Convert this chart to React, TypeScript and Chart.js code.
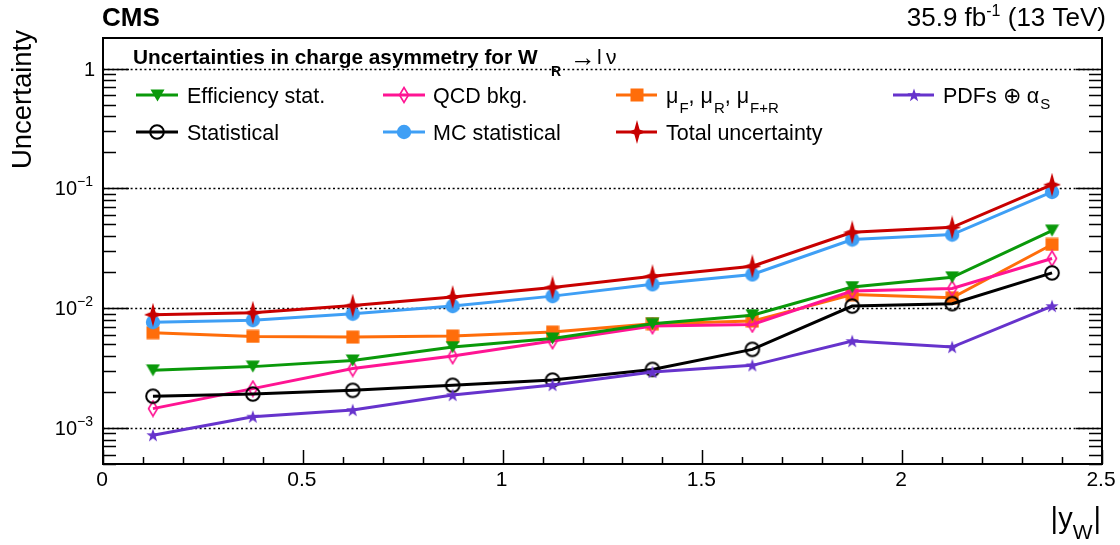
import React, { useEffect, useRef } from "react";
import { Chart, registerables } from "chart.js";

Chart.register(...registerables);

// ---------------- data ----------------
const binCenters = [0.125, 0.375, 0.625, 0.875, 1.125, 1.375, 1.625, 1.875, 2.125, 2.375];
const effStat = [0.00303, 0.00325, 0.00366, 0.00473, 0.00559, 0.0074, 0.00874, 0.0150, 0.0181, 0.0444];
const statistical = [0.00184, 0.00192, 0.00206, 0.00227, 0.00251, 0.00308, 0.00453, 0.0104, 0.0109, 0.0197];
const qcdBkg = [0.00145, 0.00213, 0.00313, 0.00398, 0.00531, 0.00708, 0.00731, 0.0139, 0.0146, 0.0260];
const mcStat = [0.00764, 0.00794, 0.00898, 0.0104, 0.0126, 0.0158, 0.0191, 0.0374, 0.0411, 0.0933];
const muScale = [0.00624, 0.00581, 0.00573, 0.00585, 0.00631, 0.00741, 0.0078, 0.0130, 0.0122, 0.0340];
const totalUnc = [0.00881, 0.00916, 0.0105, 0.0124, 0.0149, 0.0185, 0.0224, 0.0430, 0.0473, 0.1074];
const pdfAlphaS = [0.00087, 0.00124, 0.00141, 0.00188, 0.00228, 0.00293, 0.00333, 0.00531, 0.00473, 0.0104];

const xTickValues = [0, 0.5, 1, 1.5, 2, 2.5];
const xTickLabels = ["0", "0.5", "1", "1.5", "2", "2.5"];
const yDecades = [1, 0.1, 0.01, 0.001];
const yDecadeExponents = ["", "\u22121", "\u22122", "\u22123"];

const X_MIN = 0;
const X_MAX = 2.5;
const Y_MIN = 5e-4;
const Y_MAX = 1.8;

const FONT = '"Liberation Sans", Arial, Helvetica, sans-serif';

const C_GREEN = "#0a990a";
const C_BLACK = "#000000";
const C_PINK = "#ff1493";
const C_BLUE = "#3f9ff5";
const C_ORANGE = "#ff6d0a";
const C_RED = "#c80000";
const C_PURPLE = "#6633cc";

// ---------------- markers ----------------
function mk(w: number, h: number, draw: (c: CanvasRenderingContext2D, w: number, h: number) => void) {
  const c = document.createElement("canvas");
  c.width = w;
  c.height = h;
  const ctx = c.getContext("2d")!;
  draw(ctx, w, h);
  return c;
}

function makeMarkers() {
  const tri = mk(15, 13, (c, w, h) => {
    c.fillStyle = C_GREEN;
    c.beginPath();
    c.moveTo(0.5, 0.5);
    c.lineTo(w - 0.5, 0.5);
    c.lineTo(w / 2, h - 0.5);
    c.closePath();
    c.fill();
  });
  const openCircle = mk(18, 18, (c) => {
    c.strokeStyle = C_BLACK;
    c.lineWidth = 2;
    c.beginPath();
    c.arc(9, 9, 6.8, 0, Math.PI * 2);
    c.stroke();
  });
  const diamond = mk(12, 18, (c, w, h) => {
    c.strokeStyle = C_PINK;
    c.lineWidth = 1.6;
    c.beginPath();
    c.moveTo(w / 2, 1.5);
    c.lineTo(w - 1.5, h / 2);
    c.lineTo(w / 2, h - 1.5);
    c.lineTo(1.5, h / 2);
    c.closePath();
    c.stroke();
  });
  const disc = mk(16, 16, (c) => {
    c.fillStyle = C_BLUE;
    c.beginPath();
    c.arc(8, 8, 7.2, 0, Math.PI * 2);
    c.fill();
  });
  const square = mk(14, 14, (c) => {
    c.fillStyle = C_ORANGE;
    c.fillRect(0.5, 0.5, 13, 13);
  });
  const star4 = mk(18, 24, (c, w, h) => {
    const cx = w / 2, cy = h / 2, ri = 2.6;
    c.fillStyle = C_RED;
    c.beginPath();
    c.moveTo(cx, 0);
    c.lineTo(cx + ri, cy - ri);
    c.lineTo(w, cy);
    c.lineTo(cx + ri, cy + ri);
    c.lineTo(cx, h);
    c.lineTo(cx - ri, cy + ri);
    c.lineTo(0, cy);
    c.lineTo(cx - ri, cy - ri);
    c.closePath();
    c.fill();
  });
  const star5 = mk(14, 14, (c) => {
    c.fillStyle = C_PURPLE;
    c.beginPath();
    for (let i = 0; i < 10; i++) {
      const r = i % 2 === 0 ? 7 : 2.8;
      const a = -Math.PI / 2 + (i * Math.PI) / 5;
      const px = 7 + r * Math.cos(a);
      const py = 7.5 + r * Math.sin(a);
      if (i === 0) c.moveTo(px, py);
      else c.lineTo(px, py);
    }
    c.closePath();
    c.fill();
  });
  return { tri, openCircle, diamond, disc, square, star4, star5 };
}

type Part = { t: string; size: number; bold?: boolean; dy?: number; dx?: number };

function drawParts(ctx: CanvasRenderingContext2D, x: number, y: number, parts: Part[], measureOnly = false) {
  let cx = x;
  for (const p of parts) {
    ctx.font = `${p.bold ? "bold " : ""}${p.size}px ${FONT}`;
    cx += p.dx || 0;
    if (!measureOnly) ctx.fillText(p.t, cx, y + (p.dy || 0));
    cx += ctx.measureText(p.t).width;
  }
  return cx - x;
}

export default function App() {
  const ref = useRef<HTMLCanvasElement | null>(null);

  useEffect(() => {
    document.body.style.margin = "0";
    const canvas = ref.current!;
    const m = makeMarkers();

    const pts = (vals: number[]) => binCenters.map((x, i) => ({ x, y: vals[i] }));

    const series = [
      { label: "Efficiency stat.", data: effStat, color: C_GREEN, marker: m.tri, order: 4 },
      { label: "Statistical", data: statistical, color: C_BLACK, marker: m.openCircle, order: 3 },
      { label: "QCD bkg.", data: qcdBkg, color: C_PINK, marker: m.diamond, order: 5 },
      { label: "MC statistical", data: mcStat, color: C_BLUE, marker: m.disc, order: 1 },
      { label: "muF muR muF+R", data: muScale, color: C_ORANGE, marker: m.square, order: 6 },
      { label: "Total uncertainty", data: totalUnc, color: C_RED, marker: m.star4, order: 0 },
      { label: "PDFs alphaS", data: pdfAlphaS, color: C_PURPLE, marker: m.star5, order: 2 },
    ];

    const overlay = {
      id: "rootStyle",
      beforeDatasetsDraw(chart: any) {
        const { ctx, chartArea: a, scales } = chart;
        const y = scales.y;
        ctx.save();
        ctx.strokeStyle = "#000";
        ctx.lineWidth = 1.6;
        ctx.setLineDash([2, 2.6]);
        for (const d of yDecades) {
          const py = Math.round(y.getPixelForValue(d)) + 0.5;
          ctx.beginPath();
          ctx.moveTo(a.left, py);
          ctx.lineTo(a.right, py);
          ctx.stroke();
        }
        ctx.restore();
      },
      afterDraw(chart: any) {
        const { ctx, chartArea: a, scales } = chart;
        const xs = scales.x;
        const ys = scales.y;
        ctx.save();
        ctx.fillStyle = "#000";
        ctx.strokeStyle = "#000";

        // y ticks (both sides, inward)
        ctx.lineWidth = 1.5;
        for (let e = -4; e <= 0; e++) {
          for (let k = 1; k <= 9; k++) {
            const v = k * Math.pow(10, e);
            if (v < Y_MIN * 0.999 || v > Y_MAX) continue;
            const py = Math.round(ys.getPixelForValue(v)) + 0.5;
            const len = k === 1 ? 26 : 13;
            ctx.beginPath();
            ctx.moveTo(a.left, py);
            ctx.lineTo(a.left + len, py);
            ctx.moveTo(a.right, py);
            ctx.lineTo(a.right - len, py);
            ctx.stroke();
          }
        }
        // x ticks (bottom, inward)
        for (let i = 0; i <= 25; i++) {
          const v = i * 0.1;
          const px = Math.round(xs.getPixelForValue(v)) + 0.5;
          const len = i % 5 === 0 ? 14 : 7;
          ctx.beginPath();
          ctx.moveTo(px, a.bottom);
          ctx.lineTo(px, a.bottom - len);
          ctx.stroke();
        }
        // frame
        ctx.lineWidth = 2;
        ctx.strokeRect(a.left, a.top, a.right - a.left, a.bottom - a.top);

        // y tick labels
        ctx.textBaseline = "alphabetic";
        yDecades.forEach((d, i) => {
          const py = ys.getPixelForValue(d);
          const exp = yDecadeExponents[i];
          if (exp === "") {
            ctx.font = `20px ${FONT}`;
            ctx.textAlign = "right";
            ctx.fillText("1", 95, py + 7);
          } else {
            ctx.textAlign = "left";
            const parts: Part[] = [
              { t: "10", size: 20 },
              { t: exp, size: 14, dy: -9 },
            ];
            const w = drawParts(ctx, 0, 0, parts, true);
            drawParts(ctx, 93 - w, py + 7, parts);
          }
        });

        // x tick labels
        ctx.textAlign = "center";
        ctx.font = `21px ${FONT}`;
        xTickValues.forEach((v, i) => {
          const px = xs.getPixelForValue(v);
          ctx.fillText(xTickLabels[i], px - 1, 486);
        });

        // axis titles
        ctx.textAlign = "left";
        {
          const parts: Part[] = [
            { t: "|y", size: 29 },
            { t: "W", size: 21, dy: 11 },
            { t: "|", size: 29, dx: 1 },
          ];
          const w = drawParts(ctx, 0, 0, parts, true);
          drawParts(ctx, 1101 - w, 528, parts);
        }
        ctx.save();
        ctx.translate(31, 30);
        ctx.rotate(-Math.PI / 2);
        ctx.textAlign = "right";
        ctx.font = `27.5px ${FONT}`;
        ctx.fillText("Uncertainty", 0, 0);
        ctx.restore();

        // CMS + lumi
        ctx.textAlign = "left";
        ctx.font = `bold 26px ${FONT}`;
        ctx.fillText("CMS", 102, 26);
        {
          const parts: Part[] = [
            { t: "35.9 fb", size: 26 },
            { t: "-1", size: 16, dy: -10 },
            { t: " (13 TeV)", size: 26 },
          ];
          const w = drawParts(ctx, 0, 0, parts, true);
          drawParts(ctx, 1106 - w, 26, parts);
        }

        // legend header
        drawParts(ctx, 133, 64, [
          { t: "Uncertainties in charge asymmetry for W", size: 20.8, bold: true },
        ]);
        ctx.font = `bold 14px ${FONT}`;
        ctx.fillText("R", 551, 76);
        ctx.font = `26px ${FONT}`;
        ctx.fillText("\u2192", 570, 66);
        ctx.font = `21px ${FONT}`;
        ctx.fillText("l", 597, 64);
        ctx.fillText("\u03bd", 606, 64);

        // legend entries
        const rows = [95, 132];
        const cols = [
          { x0: 136, x1: 178, tx: 187 },
          { x0: 383, x1: 425, tx: 433 },
          { x0: 616, x1: 657, tx: 666 },
          { x0: 893, x1: 934, tx: 943 },
        ];
        const entries: { s: any; r: number; c: number; parts: Part[] }[] = [
          { s: series[0], r: 0, c: 0, parts: [{ t: "Efficiency stat.", size: 21.5 }] },
          { s: series[2], r: 0, c: 1, parts: [{ t: "QCD bkg.", size: 21.5 }] },
          {
            s: series[4], r: 0, c: 2, parts: [
              { t: "\u03bc", size: 21.5 },
              { t: "F", size: 15, dy: 10, dx: 1 },
              { t: ", \u03bc", size: 21.5 },
              { t: "R", size: 15, dy: 10, dx: 1 },
              { t: ", \u03bc", size: 21.5 },
              { t: "F+R", size: 15, dy: 10, dx: 1 },
            ],
          },
          {
            s: series[6], r: 0, c: 3, parts: [
              { t: "PDFs \u2295 \u03b1", size: 21.5 },
              { t: "S", size: 15, dy: 6, dx: 1 },
            ],
          },
          { s: series[1], r: 1, c: 0, parts: [{ t: "Statistical", size: 21.5 }] },
          { s: series[3], r: 1, c: 1, parts: [{ t: "MC statistical", size: 21.5 }] },
          { s: series[5], r: 1, c: 2, parts: [{ t: "Total uncertainty", size: 21.5 }] },
        ];
        for (const e of entries) {
          const col = cols[e.c];
          const yy = rows[e.r];
          ctx.strokeStyle = e.s.color;
          ctx.lineWidth = 3;
          ctx.beginPath();
          ctx.moveTo(col.x0, yy);
          ctx.lineTo(col.x1, yy);
          ctx.stroke();
          const mkC = e.s.marker as HTMLCanvasElement;
          const cx = (col.x0 + col.x1) / 2;
          ctx.drawImage(mkC, Math.round(cx - mkC.width / 2), Math.round(yy - mkC.height / 2));
          ctx.fillStyle = "#000";
          drawParts(ctx, col.tx, yy + 8, e.parts);
        }
        ctx.restore();
      },
    };

    const chart = new Chart(canvas, {
      type: "line",
      data: {
        datasets: series.map((s) => ({
          label: s.label,
          data: pts(s.data),
          borderColor: s.color,
          backgroundColor: s.color,
          borderWidth: 3,
          pointStyle: s.marker as any,
          pointRadius: 7,
          tension: 0,
          order: s.order,
          clip: false as any,
        })),
      },
      options: {
        responsive: false,
        animation: false,
        events: [],
        layout: { padding: { left: 103, top: 38, right: 18, bottom: 81 } },
        plugins: { legend: { display: false }, tooltip: { enabled: false }, title: { display: false } },
        scales: {
          x: { type: "linear", min: X_MIN, max: X_MAX, display: false },
          y: { type: "logarithmic", min: Y_MIN, max: Y_MAX, display: false },
        },
      },
      plugins: [overlay as any],
    });
    return () => chart.destroy();
  }, []);

  return (
    <div style={{ width: 1120, height: 545, background: "#fff" }}>
      <canvas ref={ref} width={1120} height={545} style={{ display: "block" }} />
    </div>
  );
}
